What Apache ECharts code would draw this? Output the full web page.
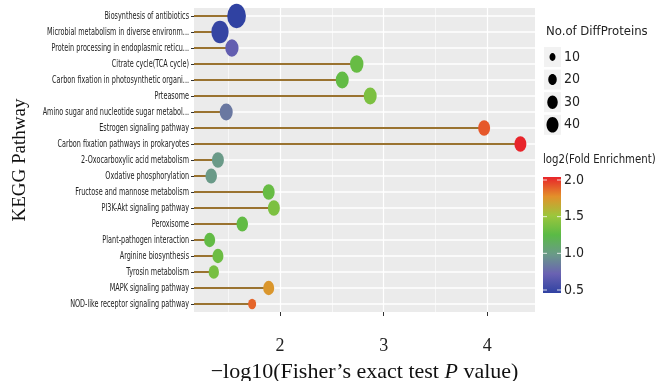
<!DOCTYPE html>
<html>
<head>
<meta charset="utf-8">
<script src="https://cdn.jsdelivr.net/npm/echarts@6/dist/echarts.min.js"></script>
<style>
  html, body { margin: 0; padding: 0; background: #fff; }
  #chart { width: 655px; height: 381px; }
</style>
</head>
<body>
<div id="chart"></div>
<script>
// KEGG pathway enrichment lollipop

var pathways = [
  'Biosynthesis of antibiotics',
  'Microbial metabolism in diverse environm...',
  'Protein processing in endoplasmic reticu...',
  'Citrate cycle(TCA cycle)',
  'Carbon fixation in photosynthetic organi...',
  'Prteasome',
  'Amino sugar and nucleotide sugar metabol...',
  'Estrogen signaling pathway',
  'Carbon fixation pathways in prokaryotes',
  '2-Oxocarboxylic acid metabolism',
  'Oxdative phosphorylation',
  'Fructose and mannose metabolism',
  'PI3K-Akt signaling pathway',
  'Peroxisome',
  'Plant-pathogen interaction',
  'Arginine biosynthesis',
  'Tyrosin metabolism',
  'MAPK signaling pathway',
  'NOD-like receptor signaling pathway'
];
var fisherLogP = [1.58, 1.42, 1.535, 2.74, 2.60, 2.87, 1.48, 3.97, 4.32, 1.40, 1.335, 1.89, 1.94, 1.635, 1.32, 1.40, 1.36, 1.89, 1.73];
var diffProteins = [97, 83, 49, 50, 47, 47, 47, 40, 40, 40, 37, 40, 40, 37, 34, 34, 30, 34, 18];
var log2FoldEnrich = [0.5, 0.52, 0.72, 1.3, 1.28, 1.38, 0.85, 1.88, 2.0, 1.0, 1.0, 1.3, 1.38, 1.28, 1.28, 1.32, 1.36, 1.72, 1.85];

var xTicks = [2, 3, 4];
var xMinor = [1.5, 2.5, 3.5];
var sizeLegend = [10, 20, 30, 40];
var colorTicks = [0.5, 1.0, 1.5, 2.0];
var colorStops = ['#3042A2', '#6A62B2', '#6A9A88', '#5ABA46', '#9CC63C', '#E3902A', '#E8242A'];

var narrow = '"Liberation Sans Narrow", "DejaVu Sans Condensed", "Noto Sans", sans-serif';
var serif = '"Liberation Serif", "DejaVu Serif", serif';

function bubbleW(n) { return 1.9 * Math.sqrt(n); }

var points = pathways.map(function (name, i) {
  return [fisherLogP[i], name, diffProteins[i], log2FoldEnrich[i]];
});

var gridLines = [];
xTicks.forEach(function (v) {
  gridLines.push({ xAxis: v, lineStyle: { color: '#fff', width: 1.2, type: 'solid' } });
});
xMinor.forEach(function (v) {
  gridLines.push({ xAxis: v, lineStyle: { color: '#fff', width: 0.6, type: 'solid' } });
});
pathways.forEach(function (c) {
  gridLines.push({ yAxis: c, lineStyle: { color: '#fff', width: 1.6, type: 'solid' } });
});

// legends (drawn by hand, ggplot style)
var graphics = [];
graphics.push({ type: 'text', x: 546, y: 25, style: { text: 'No.of DiffProteins', font: '13px ' + narrow, fill: '#222' } });
sizeLegend.forEach(function (n, i) {
  var cy = 57 + i * 22.6;
  var w = bubbleW(n);
  graphics.push({ type: 'rect', shape: { x: 544, y: cy - 10, width: 17, height: 20 }, style: { fill: '#F2F2F2' } });
  graphics.push({ type: 'ellipse', shape: { cx: 552.5, cy: cy, rx: w / 2, ry: w * 1.3 / 2 }, style: { fill: '#000' } });
  graphics.push({ type: 'text', x: 564, y: cy, style: { text: String(n), font: '14px ' + narrow, fill: '#222', verticalAlign: 'middle' } });
});

var barTop = 180, barBot = 290;
graphics.push({ type: 'text', x: 543, y: 153, scaleX: 0.87, style: { text: 'log2(Fold Enrichment)', font: '13px ' + narrow, fill: '#222' } });
graphics.push({
  type: 'rect', shape: { x: 543, y: barTop - 3, width: 18, height: barBot - barTop + 6 },
  style: {
    fill: new echarts.graphic.LinearGradient(0, 1, 0, 0, colorStops.map(function (c, i) {
      return { offset: i / (colorStops.length - 1), color: c };
    }))
  }
});
colorTicks.forEach(function (v) {
  var y = barBot - (v - 0.5) / 1.5 * (barBot - barTop);
  graphics.push({ type: 'line', shape: { x1: 543, y1: y, x2: 547, y2: y }, style: { stroke: '#fff', lineWidth: 0.8 } });
  graphics.push({ type: 'line', shape: { x1: 557, y1: y, x2: 561, y2: y }, style: { stroke: '#fff', lineWidth: 0.8 } });
  graphics.push({ type: 'text', x: 564, y: y, style: { text: v.toFixed(1), font: '14px ' + narrow, fill: '#222', verticalAlign: 'middle' } });
});

var chart = echarts.init(document.getElementById('chart'));

var option = {
  animation: false,
  grid: {
    left: 194, right: 120, top: 8, bottom: 69,
    outerBoundsMode: 'none',
    containLabel: false,
    show: true, backgroundColor: '#EBEBEB', borderWidth: 0
  },
  xAxis: {
    type: 'value',
    min: 1.169,
    max: 4.461,
    axisLine: { show: false },
    splitLine: { show: false },
    axisTick: { show: true, customValues: xTicks, length: 4, lineStyle: { color: '#333' } },
    axisLabel: { customValues: xTicks, fontSize: 18, fontFamily: serif, color: '#222', margin: 25 },
    name: '{n|\u2212log10(Fisher\u2019s exact test }{i|P}{n| value)}',
    nameLocation: 'middle',
    nameGap: 49,
    nameTextStyle: {
      rich: {
        n: { fontSize: 22, fontFamily: serif, color: '#111' },
        i: { fontSize: 22, fontFamily: serif, fontStyle: 'italic', color: '#111' }
      }
    }
  },
  yAxis: {
    type: 'category',
    inverse: true,
    data: pathways,
    axisLine: { show: false },
    axisTick: { show: true, alignWithLabel: true, length: 3, lineStyle: { color: '#333' } },
    axisLabel: { show: false },
    splitLine: { show: false },
    name: 'KEGG Pathway',
    nameLocation: 'middle',
    nameGap: 164,
    nameRotate: 90,
    nameTextStyle: { fontSize: 19, fontFamily: serif, color: '#111' }
  },
  visualMap: {
    show: false,
    type: 'continuous',
    min: 0.5,
    max: 2.0,
    dimension: 3,
    seriesIndex: 2,
    inRange: { color: colorStops }
  },
  graphic: graphics,
  series: [
    {
      type: 'scatter',
      data: [],
      z: 1,
      silent: true,
      markLine: { z: 1, silent: true, symbol: 'none', label: { show: false }, data: gridLines }
    },
    {
      name: 'stem',
      type: 'bar',
      data: fisherLogP,
      barWidth: 2,
      clip: true,
      z: 3,
      itemStyle: { color: '#9A7330' }
    },
    {
      name: 'pathway',
      type: 'scatter',
      data: points,
      z: 4,
      itemStyle: { opacity: 1 },
      symbolSize: function (d) {
        var w = bubbleW(d[2]);
        return [w, w * 1.3];
      }
    }
  ]
};
chart.setOption(option);

// category labels: narrow, tall text like the original, placed through the y axis
var labelGraphics = pathways.map(function (name) {
  var y = chart.convertToPixel({ yAxisIndex: 0 }, name);
  return {
    type: 'text', x: 189, y: y, scaleX: 0.72,
    style: { text: name, font: '10px ' + narrow, fill: '#222', align: 'right', verticalAlign: 'middle' }
  };
});
chart.setOption({ graphic: graphics.concat(labelGraphics) });
</script>
</body>
</html>
